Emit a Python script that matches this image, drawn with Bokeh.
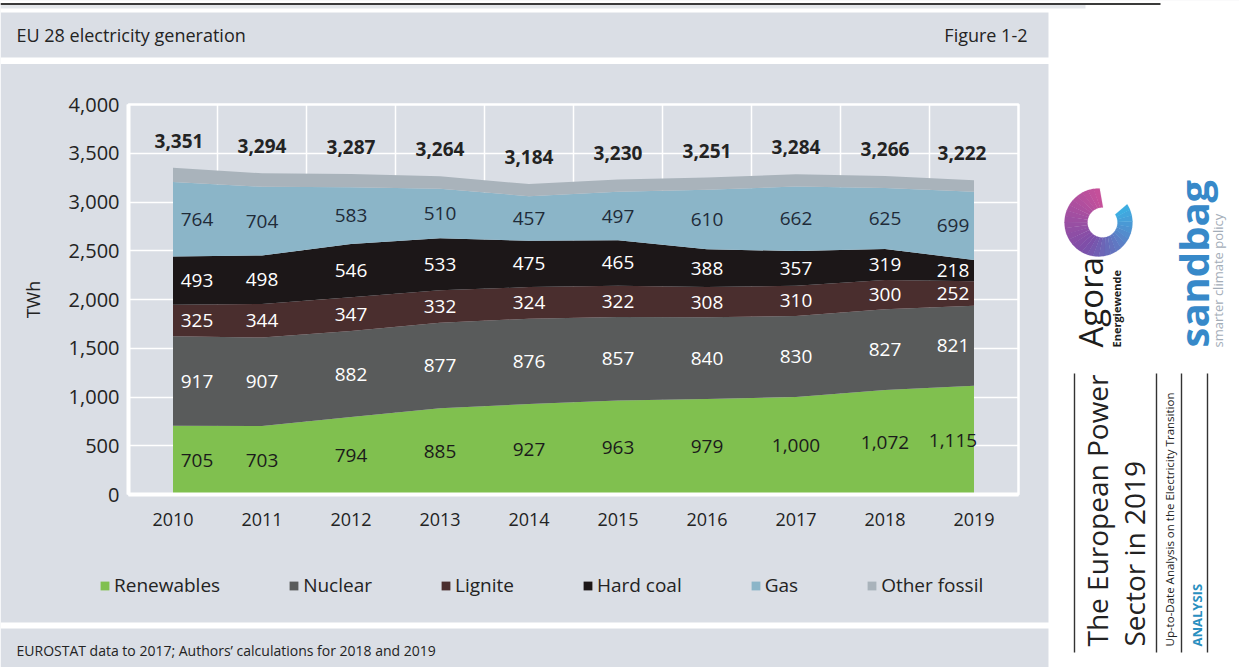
import numpy as np
from math import pi
from bokeh.plotting import figure
from bokeh.models import (ColumnDataSource, FixedTicker, NumeralTickFormatter, Label,
                          BoxAnnotation, PolyAnnotation, Legend, LegendItem, Range1d)
from bokeh.core.properties import value
from bokeh.embed import file_html
from bokeh.resources import INLINE

# ---------------- data ----------------
years = [2010, 2011, 2012, 2013, 2014, 2015, 2016, 2017, 2018, 2019]
renewables = [705, 703, 794, 885, 927, 963, 979, 1000, 1072, 1115]
nuclear = [917, 907, 882, 877, 876, 857, 840, 830, 827, 821]
lignite = [325, 344, 347, 332, 324, 322, 308, 310, 300, 252]
hard_coal = [493, 498, 546, 533, 475, 465, 388, 357, 319, 218]
gas = [764, 704, 583, 510, 457, 497, 610, 662, 625, 699]
other_fossil = [147, 138, 135, 127, 125, 126, 126, 125, 123, 117]
totals = [3351, 3294, 3287, 3264, 3184, 3230, 3251, 3284, 3266, 3222]
series_names = ["Renewables", "Nuclear", "Lignite", "Hard coal", "Gas", "Other fossil"]
y_ticks = [0, 500, 1000, 1500, 2000, 2500, 3000, 3500, 4000]

# ---------------- styling ----------------
FONT = "Open Sans"
BAND = "#dadee5"
TXT = "#232323"
colors = ["#80c04f", "#595b5b", "#4a2e2e", "#1c1718", "#8bb5c8", "#a9b3bb"]
label_colors = ["#1b1b1b", "#ffffff", "#ffffff", "#ffffff", "#1f2b38"]

W, H = 1239, 667
FRAME_L, FRAME_R, FRAME_T, FRAME_B = 128, 1018, 104, 494

keys = ["renewables", "nuclear", "lignite", "hard_coal", "gas", "other_fossil"]
src = ColumnDataSource(dict(year=years, renewables=renewables, nuclear=nuclear, lignite=lignite,
                            hard_coal=hard_coal, gas=gas, other_fossil=other_fossil))

# ---------------- chart (base layer) ----------------
p = figure(width=W, height=H, x_range=(2009.5, 2019.5), y_range=(0, 4000), title=None,
           output_backend="svg", toolbar_location=None,
           min_border_left=FRAME_L, min_border_right=W - FRAME_R,
           min_border_top=FRAME_T, min_border_bottom=H - FRAME_B)
p.background_fill_color = BAND
p.border_fill_color = BAND
p.outline_line_color = "white"
p.outline_line_width = 2.5

p.varea_stack(stackers=keys, x="year", color=colors, source=src)

lx, ly, lt, lc, lo = [], [], [], [], []
bottom = np.zeros(len(years))
for vals, tc in zip([renewables, nuclear, lignite, hard_coal, gas], label_colors):
    v = np.array(vals, dtype=float)
    mid = bottom + v / 2
    for i, yr in enumerate(years):
        lx.append(yr)
        ly.append(mid[i])
        lt.append(f"{vals[i]:,}")
        lc.append(tc)
        lo.append(24 if i == 0 else (-21 if i == len(years) - 1 else 0))
    bottom += v
lab_src = ColumnDataSource(dict(x=lx, y=ly, text=lt, color=lc, xoff=lo))
p.text(x="x", y="y", text="text", text_color="color", x_offset="xoff", source=lab_src,
       text_align="center", text_baseline="middle", text_font=value(FONT), text_font_size="19px")

tot_src = ColumnDataSource(dict(x=years, y=totals, text=[f"{t:,}" for t in totals],
                                xoff=[6 if i == 0 else (-12 if i == len(years) - 1 else 0)
                                      for i in range(len(years))]))
p.text(x="x", y="y", text="text", x_offset="xoff", y_offset=-27, source=tot_src,
       text_align="center", text_baseline="middle", text_color=TXT, text_font=value(FONT),
       text_font_size="19px", text_font_style="bold")

p.yaxis.ticker = FixedTicker(ticks=y_ticks)
p.yaxis.formatter = NumeralTickFormatter(format="0,0")
p.yaxis.axis_label = "TWh"
p.yaxis.axis_label_text_font_style = "normal"
p.yaxis.axis_label_text_font = FONT
p.yaxis.axis_label_text_font_size = "18px"
p.yaxis.axis_label_text_color = TXT
p.yaxis.axis_label_standoff = 21
p.yaxis.major_label_standoff = 3
p.yaxis.major_label_text_font_size = "20px"

p.xaxis.ticker = FixedTicker(ticks=years)
p.xaxis.major_label_standoff = 12
p.xaxis.major_label_text_font_size = "18px"

for ax in [p.xaxis, p.yaxis]:
    ax.major_tick_line_color = None
    ax.minor_tick_line_color = None
    ax.axis_line_color = "white"
    ax.axis_line_width = 4
    ax.major_label_text_font = FONT
    ax.major_label_text_color = TXT

p.ygrid.ticker = FixedTicker(ticks=y_ticks)
p.xgrid.ticker = FixedTicker(ticks=[y - 0.5 for y in years] + [years[-1] + 0.5])
p.grid.grid_line_color = "white"
p.grid.grid_line_width = 1.5
p.grid.grid_line_alpha = 1

# ---------------- decoration layer (on top, transparent) ----------------
d = figure(width=W, height=H, x_range=Range1d(0, W), y_range=Range1d(H, 0),
           x_axis_type=None, y_axis_type=None, min_border=0, title=None,
           output_backend="svg", toolbar_location=None)
d.grid.visible = False
d.outline_line_color = None
d.background_fill_alpha = 0
d.border_fill_alpha = 0
d.styles = {"position": "absolute", "left": "0px", "top": "0px", "z-index": "5"}

# the same series, drawn outside this layer's visible window, feed the legend swatches
legend_renderers = d.varea_stack(stackers=keys, x="year", color=colors, source=src)
legend = Legend(items=[LegendItem(label=n, renderers=[r]) for n, r in zip(series_names, legend_renderers)],
                location=(99, H - 598), orientation="horizontal",
                glyph_width=11, glyph_height=11, label_standoff=4, spacing=68,
                padding=0, margin=0, border_line_alpha=0, background_fill_alpha=0,
                label_text_font=FONT, label_text_font_size="19px", label_text_color=TXT)
d.add_layout(legend, "center")


def box(x0, x1, y0, y1, color):
    d.add_layout(BoxAnnotation(left=x0, right=x1, top=y0, bottom=y1, fill_color=color,
                               fill_alpha=1, line_alpha=0))


def label(X, Y, text, size, color=TXT, align="left", style="normal", angle=0.0):
    d.add_layout(Label(x=X, y=Y, text=text, text_font=FONT, text_font_size=size,
                       text_color=color, text_align=align, text_baseline="middle",
                       text_font_style=style, angle=angle))


# white separators / margins
box(0, W, 0, 12, "white")
box(0, W, 57, 63.5, "white")
box(0, W, 622, 628, "white")
box(1048, W, 0, H, "white")
box(0, 1160, 2.5, 4.5, "#3a3a3a")
box(0, 1085, 4.5, 8, "#e4e7eb")

label(16, 34, "EU 28 electricity generation", "18px")
label(1027, 34, "Figure 1-2", "18px", align="right")
label(16, 650, "EUROSTAT data to 2017; Authors\u2019 calculations for 2018 and 2019", "14px")

label(1090, 347, "Agora", "33px", color="#1d1d1b", angle=pi / 2)
label(1116, 347, "Energiewende", "11px", color="#1d1d1b", style="bold", angle=pi / 2)
label(1193, 347, "sandbag", "40px", color="#3789c9", style="bold", angle=pi / 2)
label(1217, 347, "smarter climate policy", "13px", color="#a3adb8", angle=pi / 2)
label(1096, 646, "The European Power", "28px", color="#222222", angle=pi / 2)
label(1133, 646, "Sector in 2019", "28px", color="#222222", angle=pi / 2)
label(1169, 646, "Up-to-Date Analysis on the Electricity Transition", "11.5px",
      color="#222222", angle=pi / 2)
label(1196, 646, "ANALYSIS", "13px", color="#2a8fc0", style="bold", angle=pi / 2)

for X in [1074, 1156, 1181, 1207]:
    box(X - 0.7, X + 0.7, 373, 652, "#333333")


def hex2rgb(h):
    return np.array([int(h[i:i + 2], 16) for i in (1, 3, 5)], dtype=float)


stops = [hex2rgb("#c8509a"), hex2rgb("#7c4ea8"), hex2rgb("#3bb0e3")]
cx, cy, R = 1098, 222, 34
icx, icy, r = 1102, 222, 15
a0, a1, nseg = 88.0, 392.0, 30
edges = np.linspace(a0, a1, nseg + 1)
for k in range(nseg):
    ang = np.radians(np.linspace(edges[k], edges[k + 1] + 0.6, 5))
    ox = cx + R * np.cos(ang)
    oy = cy - R * np.sin(ang)
    ix = icx + r * np.cos(ang[::-1])
    iy = icy - r * np.sin(ang[::-1])
    t = (k + 0.5) / nseg
    if t < 0.5:
        c = stops[0] + (stops[1] - stops[0]) * (t / 0.5)
    else:
        c = stops[1] + (stops[2] - stops[1]) * ((t - 0.5) / 0.5)
    col = "#%02x%02x%02x" % tuple(int(round(v)) for v in c)
    d.add_layout(PolyAnnotation(xs=list(np.concatenate([ox, ix])),
                                ys=list(np.concatenate([oy, iy])),
                                fill_color=col, fill_alpha=1, line_color=col, line_width=0.5))

open("out.html", "w").write(file_html([p, d], INLINE))
